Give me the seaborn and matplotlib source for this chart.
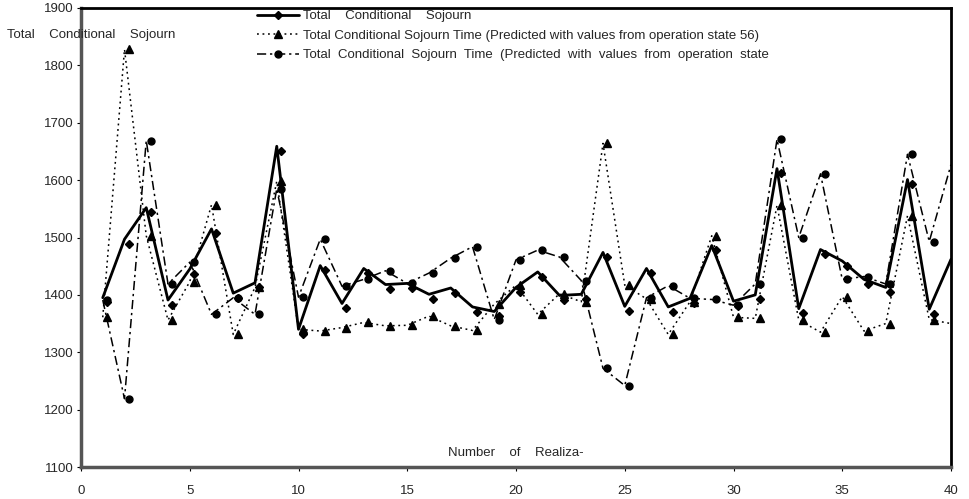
import numpy as np
import pandas as pd
import seaborn as sns
import matplotlib.pyplot as plt
from matplotlib.lines import Line2D

sns.set_style("white")
plt.rcParams['font.family'] = ['Liberation Sans', 'DejaVu Sans']

# data
realization = np.arange(1, 41)
total_sojourn = [1395, 1497, 1552, 1391, 1445, 1515, 1403, 1421, 1659, 1340,
                 1451, 1385, 1446, 1418, 1420, 1401, 1412, 1379, 1371, 1413,
                 1440, 1399, 1401, 1474, 1380, 1446, 1379, 1394, 1486, 1389,
                 1400, 1620, 1376, 1479, 1459, 1427, 1413, 1601, 1375, 1462]
pred_state56 = [1361, 1828, 1503, 1356, 1423, 1557, 1331, 1413, 1598, 1340,
                1337, 1343, 1352, 1346, 1347, 1363, 1346, 1338, 1384, 1417,
                1366, 1402, 1388, 1664, 1417, 1393, 1331, 1388, 1503, 1361,
                1359, 1556, 1356, 1335, 1397, 1337, 1350, 1538, 1357, 1350]
pred_state = [1391, 1219, 1669, 1419, 1457, 1366, 1395, 1366, 1585, 1396,
              1497, 1415, 1427, 1442, 1420, 1438, 1464, 1484, 1357, 1461,
              1478, 1466, 1425, 1272, 1242, 1395, 1416, 1394, 1392, 1382,
              1419, 1671, 1500, 1611, 1427, 1432, 1419, 1645, 1493, 1627]

labels = ["Total    Conditional    Sojourn",
          "Total Conditional Sojourn Time (Predicted with values from operation state 56)",
          "Total  Conditional  Sojourn  Time  (Predicted  with  values  from  operation  state"]

df = pd.DataFrame({"x": realization, "a": total_sojourn,
                   "b": pred_state56, "c": pred_state})

FS = 9.5

fig = plt.figure(figsize=(9.69, 4.99), dpi=100)
ax = fig.add_axes([81 / 969, 1 - 467 / 499, 870 / 969, 459 / 499])

dotted = (0, (1.2, 2.4))
dashdot = (0, (6, 2.5, 1.5, 2.5))

sns.lineplot(data=df, x="x", y="a", ax=ax, color="black", lw=2.0)
sns.lineplot(data=df, x="x", y="b", ax=ax, color="black", lw=1.1, linestyle=dotted)
sns.lineplot(data=df, x="x", y="c", ax=ax, color="black", lw=1.1, linestyle=dashdot)

# markers sit a little to the right of the line vertices in the original
shift = df["x"] + 0.2
ax.plot(shift, df["a"] - 8, "D", color="black", ms=4.2, ls="none")
ax.plot(shift, df["b"], "^", color="black", ms=5.5, ls="none")
ax.plot(shift, df["c"], "o", color="black", ms=5, ls="none")

ax.set_xlim(0, 40)
ax.set_ylim(1100, 1900)
ax.set_xticks(range(0, 41, 5))
ax.set_yticks(range(1100, 1901, 100))
ax.set_xlabel("")
ax.set_ylabel("")
ax.tick_params(axis="x", direction="out", length=3, width=0.8, pad=10,
               labelsize=FS, bottom=True, color="black")
ax.tick_params(axis="y", direction="out", length=3, width=0.8, pad=2,
               labelsize=FS, left=True, color="black")
for lbl in ax.get_yticklabels():
    lbl.set_verticalalignment("center_baseline")

for s in ["top", "right"]:
    ax.spines[s].set_color("black")
    ax.spines[s].set_linewidth(2)
for s in ["left", "bottom"]:
    ax.spines[s].set_color("#555555")
    ax.spines[s].set_linewidth(2.5)

handles = [
    Line2D([], [], color="black", lw=2.0, marker="D", ms=4),
    Line2D([], [], color="black", lw=1.1, linestyle=dotted, marker="^", ms=5.5),
    Line2D([], [], color="black", lw=1.1, linestyle=dashdot, marker="o", ms=5),
]
fig.legend(handles, labels, loc="upper left", bbox_to_anchor=(257 / 969, 1 - 10 / 499),
           frameon=False, fontsize=FS, handlelength=3.2, handletextpad=0.25,
           labelspacing=0.55, borderpad=0, borderaxespad=0)

fig.text(7 / 969, 1 - 35 / 499, "Total    Conditional    Sojourn",
         fontsize=FS, va="center", ha="left")
fig.text(516 / 969, 1 - 453 / 499, "Number    of    Realiza-",
         fontsize=FS, va="center", ha="center")

fig.savefig("out.png", dpi=100)
